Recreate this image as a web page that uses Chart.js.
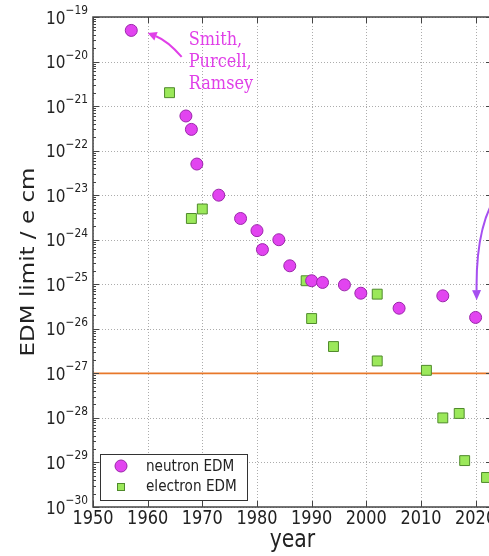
<!DOCTYPE html>
<html><head><meta charset="utf-8">
<script src="https://cdn.jsdelivr.net/npm/chart.js@4.4.0/dist/chart.umd.min.js"></script>
<style>
html,body{margin:0;padding:0;background:#fff;overflow:hidden;width:489px;height:556px}
#wrap{width:489px;height:556px;overflow:hidden;position:relative}
canvas{display:block}
</style></head>
<body><div id="wrap"><canvas id="c" width="500" height="556"></canvas></div>
<script>
// ---- data ----
const neutronYears  = [1957, 1967, 1968, 1969, 1973, 1977, 1980, 1981, 1984, 1986, 1990, 1992, 1996, 1999, 2006, 2014, 2020];
const neutronLimits = [5e-20, 6e-22, 3e-22, 5e-23, 1e-23, 3e-24, 1.6e-24, 6e-25, 1e-24, 2.6e-25, 1.2e-25, 1.1e-25, 9.7e-26, 6.3e-26, 2.9e-26, 5.5e-26, 1.8e-26];
const electronYears  = [1964, 1968, 1970, 1989, 1990, 1994, 2002, 2002, 2011, 2014, 2017, 2018, 2022];
const electronLimits = [2e-21, 3e-24, 4.9e-24, 1.2e-25, 1.7e-26, 4e-27, 6e-26, 1.9e-27, 1.17e-27, 1e-28, 1.26e-28, 1.1e-29, 4.6e-30];
const referenceLimit = 1e-27;
const xTickYears = [1950, 1960, 1970, 1980, 1990, 2000, 2010, 2020];
const yTickExponents = [-19, -20, -21, -22, -23, -24, -25, -26, -27, -28, -29, -30];
const xRange = [1950, 2023];
const yRange = [1e-30, 1e-19];
const seriesLabels = ['neutron EDM', 'electron EDM'];
const axisTitles = {x: 'year', y: 'EDM limit / e cm'};
const annotationLines = ['Smith,', 'Purcell,', 'Ramsey'];
const annotationPoint = {x: 1960.0, y: 4.4e-20};
const arrowPoint2 = {x: 2020.2, y: 4.4e-26};

// ---- styles ----
const SX = 0.85;
const SANS = '"DejaVu Sans", sans-serif';
const nFill = '#e244f0', nEdge = '#9a26aa';
const eFill = '#9be85a', eEdge = '#4f8a2c';
const TXT = '#222';

function drawText(ctx, s, x, y, font, color, align, baseline, rot) {
  ctx.save();
  ctx.translate(x, y);
  ctx.scale(SX, 1);
  if (rot) ctx.rotate(rot);
  ctx.font = font; ctx.fillStyle = color;
  ctx.textAlign = align || 'left'; ctx.textBaseline = baseline || 'alphabetic';
  ctx.fillText(s, 0, 0);
  ctx.restore();
}
function seg(ctx, x1, y1, x2, y2) { ctx.beginPath(); ctx.moveTo(x1, y1); ctx.lineTo(x2, y2); ctx.stroke(); }
function curvedArrow(ctx, p0, p1, p2, color, lw, hl, hw) {
  const dx = p2.x - p1.x, dy = p2.y - p1.y, d = Math.hypot(dx, dy);
  const ux = dx / d, uy = dy / d;
  const bx = p2.x - ux * hl, by = p2.y - uy * hl;
  ctx.save();
  ctx.strokeStyle = color; ctx.fillStyle = color; ctx.lineWidth = lw;
  ctx.beginPath(); ctx.moveTo(p0.x, p0.y); ctx.quadraticCurveTo(p1.x, p1.y, bx, by); ctx.stroke();
  ctx.beginPath();
  ctx.moveTo(p2.x, p2.y);
  ctx.lineTo(bx - uy * hw, by + ux * hw);
  ctx.lineTo(bx + uy * hw, by - ux * hw);
  ctx.closePath(); ctx.fill();
  ctx.restore();
}

const decorations = {
  id: 'decorations',
  beforeDatasetsDraw(chart) {
    const ctx = chart.ctx, xs = chart.scales.x, ys = chart.scales.y;
    const {left, right, top, bottom} = chart.chartArea;
    ctx.save();
    ctx.strokeStyle = '#acacac'; ctx.lineWidth = 1; ctx.setLineDash([1, 2]);
    for (const v of xTickYears) {
      const px = Math.round(xs.getPixelForValue(v)) + 0.5;
      seg(ctx, px, top, px, bottom);
    }
    for (const e of yTickExponents) {
      const py = Math.round(ys.getPixelForValue(parseFloat('1e' + e))) + 0.5;
      seg(ctx, left, py, right, py);
    }
    ctx.restore();
  },
  afterDatasetsDraw(chart) {
    const ctx = chart.ctx, xs = chart.scales.x, ys = chart.scales.y;
    const {left, right, top, bottom} = chart.chartArea;
    ctx.save();
    // tick marks
    ctx.strokeStyle = '#444'; ctx.lineWidth = 1;
    for (const v of xTickYears) {
      const px = Math.round(xs.getPixelForValue(v)) + 0.5;
      seg(ctx, px, bottom, px, bottom - 6);
      seg(ctx, px, top, px, top + 6);
    }
    for (const e of yTickExponents) {
      const py = Math.round(ys.getPixelForValue(parseFloat('1e' + e))) + 0.5;
      seg(ctx, left, py, left + 6, py);
      seg(ctx, right, py, right - 6, py);
      for (let m = 2; m <= 9; m++) {
        const v = m * parseFloat('1e' + e);
        if (v >= yRange[1]) continue;
        const pm = Math.round(ys.getPixelForValue(v)) + 0.5;
        seg(ctx, left, pm, left + 3, pm);
        seg(ctx, right, pm, right - 3, pm);
      }
    }
    // box
    ctx.strokeStyle = '#444'; ctx.lineWidth = 1.5;
    ctx.strokeRect(left, top, right - left, bottom - top);

    // legend
    const lx = left + 7, ly = bottom - 53, lw = 147, lh = 46;
    ctx.fillStyle = '#fff'; ctx.fillRect(lx, ly, lw, lh);
    ctx.strokeStyle = '#333'; ctx.lineWidth = 1; ctx.strokeRect(lx + 0.5, ly + 0.5, lw, lh);
    ctx.beginPath(); ctx.arc(lx + 21, ly + 12, 6, 0, Math.PI * 2);
    ctx.fillStyle = nFill; ctx.fill(); ctx.strokeStyle = nEdge; ctx.stroke();
    ctx.fillStyle = eFill; ctx.fillRect(lx + 17, ly + 29, 8, 8);
    ctx.strokeStyle = eEdge; ctx.strokeRect(lx + 17.5, ly + 29.5, 7, 7);
    drawText(ctx, seriesLabels[0], lx + 46, ly + 17, '16px ' + SANS, TXT, 'left');
    drawText(ctx, seriesLabels[1], lx + 46, ly + 37, '16px ' + SANS, TXT, 'left');

    // x tick labels
    for (const v of xTickYears) {
      drawText(ctx, String(v), xs.getPixelForValue(v), bottom + 17, '19px ' + SANS, TXT, 'center');
    }
    // y tick labels 10^e
    for (const e of yTickExponents) {
      const py = ys.getPixelForValue(parseFloat('1e' + e));
      const expStr = '\u2212' + String(-e);
      ctx.font = '12.5px ' + SANS;
      const ew = ctx.measureText(expStr).width * SX;
      const rx = left - 5;
      drawText(ctx, expStr, rx, py - 3, '12.5px ' + SANS, TXT, 'right');
      drawText(ctx, '10', rx - ew, py + 6.5, '18px ' + SANS, TXT, 'right');
    }
    // axis titles
    drawText(ctx, axisTitles.x, (left + right) / 2, bottom + 40, '24px ' + SANS, TXT, 'center');
    drawText(ctx, axisTitles.y, 34, (top + bottom) / 2, '23px ' + SANS, TXT, 'center', 'alphabetic', -Math.PI / 2);

    // annotation: Smith, Purcell, Ramsey
    const tip = {x: xs.getPixelForValue(annotationPoint.x), y: ys.getPixelForValue(annotationPoint.y)};
    curvedArrow(ctx, {x: tip.x + 34, y: tip.y + 24}, {x: tip.x + 20, y: tip.y + 8}, tip, '#e040e8', 2, 9, 4.5);
    annotationLines.forEach((s, i) => {
      drawText(ctx, s, tip.x + 41, tip.y + 12 + i * 22, '19px "DejaVu Serif", serif', '#e040e8', 'left');
    });
    // right arrow (annotation text lies outside the visible area)
    const t2 = {x: xs.getPixelForValue(arrowPoint2.x), y: ys.getPixelForValue(arrowPoint2.y)};
    curvedArrow(ctx, {x: t2.x + 28, y: t2.y - 115}, {x: t2.x - 1, y: t2.y - 85}, t2, '#a64ff0', 2, 10, 4.5);
    ctx.restore();
  }
};

new Chart(document.getElementById('c'), {
  type: 'scatter',
  data: {
    datasets: [
      {label: seriesLabels[0], data: neutronYears.map((x, i) => ({x, y: neutronLimits[i]})),
       pointStyle: 'circle', pointRadius: 6, backgroundColor: nFill, borderColor: nEdge, borderWidth: 1, order: 0},
      {label: seriesLabels[1], data: electronYears.map((x, i) => ({x, y: electronLimits[i]})),
       pointStyle: 'rect', pointRadius: 7, backgroundColor: eFill, borderColor: eEdge, borderWidth: 1, order: 1},
      {type: 'line', label: 'limit', data: xRange.map(x => ({x, y: referenceLimit})),
       borderColor: '#e8782a', borderWidth: 1.6, pointRadius: 0, showLine: true, fill: false, order: 2}
    ]
  },
  options: {
    responsive: false, animation: false, devicePixelRatio: 1,
    layout: {padding: {left: 93, top: 17, right: 7, bottom: 49}},
    plugins: {legend: {display: false}, tooltip: {enabled: false}},
    scales: {
      x: {type: 'linear', min: xRange[0], max: xRange[1],
          afterBuildTicks: s => { s.ticks = xTickYears.map(v => ({value: v})); },
          ticks: {display: false},
          grid: {display: false, drawTicks: false},
          border: {display: false}},
      y: {type: 'logarithmic', min: yRange[0], max: yRange[1],
          afterBuildTicks: s => { s.ticks = yTickExponents.map(e => ({value: parseFloat('1e' + e)})); },
          ticks: {display: false},
          grid: {display: false, drawTicks: false},
          border: {display: false}}
    }
  },
  plugins: [decorations]
});
</script>
</body></html>
